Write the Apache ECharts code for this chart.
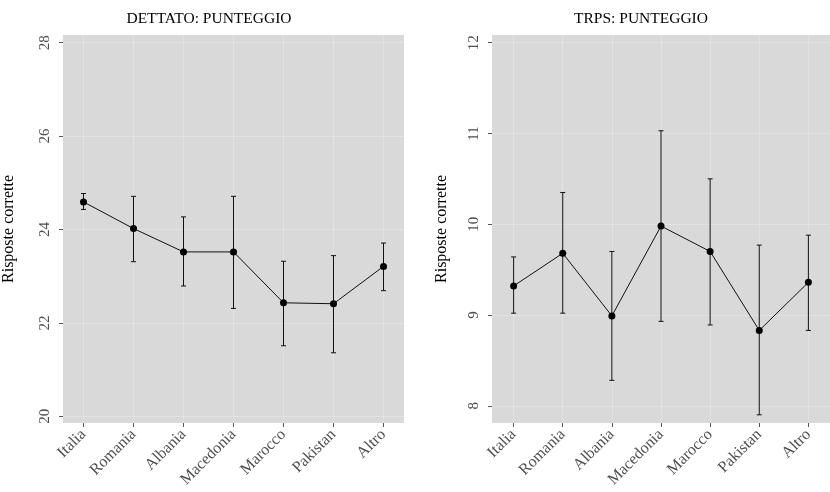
<!DOCTYPE html>
<html>
<head>
<meta charset="utf-8">
<script src="https://cdn.jsdelivr.net/npm/echarts@6/dist/echarts.min.js"></script>
<style>
html,body{margin:0;padding:0;background:#fff;}
#chart{width:830px;height:492px;}
</style>
</head>
<body>
<div id="chart"></div>
<script>
const categories = ['Italia','Romania','Albania','Macedonia','Marocco','Pakistan','Altro'];
const dettatoMean = [24.59, 24.02, 23.52, 23.52, 22.43, 22.41, 23.21];
const dettatoLow  = [24.43, 23.31, 22.79, 22.31, 21.51, 21.36, 22.69];
const dettatoHigh = [24.77, 24.71, 24.27, 24.71, 23.32, 23.44, 23.71];
const trpsMean = [9.32, 9.68, 8.99, 9.98, 9.70, 8.83, 9.36];
const trpsLow  = [9.02, 9.02, 8.28, 8.93, 8.89, 7.90, 8.83];
const trpsHigh = [9.64, 10.35, 9.70, 11.03, 10.50, 9.77, 9.88];
const dettatoTicks = [20, 22, 24, 26, 28];
const trpsTicks = [8, 9, 10, 11, 12];
const titles = ['DETTATO: PUNTEGGIO', 'TRPS: PUNTEGGIO'];
const yTitle = 'Risposte corrette';

const FONT = 'Liberation Serif';
const catIdx = categories.map((c, i) => i);

function renderErr(params, api) {
  const x = api.value(0);
  const lo = api.coord([x, api.value(1)]);
  const hi = api.coord([x, api.value(2)]);
  const hw = 2.5;
  const st = {stroke: '#111', lineWidth: 1};
  return {type: 'group', children: [
    {type: 'line', shape: {x1: lo[0], y1: lo[1], x2: hi[0], y2: hi[1]}, style: st},
    {type: 'line', shape: {x1: lo[0]-hw, y1: lo[1], x2: lo[0]+hw, y2: lo[1]}, style: st},
    {type: 'line', shape: {x1: hi[0]-hw, y1: hi[1], x2: hi[0]+hw, y2: hi[1]}, style: st}
  ]};
}

function xAxis(gi, pad) {
  return {
    type: 'value', gridIndex: gi, min: -pad, max: categories.length - 1 + pad,
    axisLine: {show: false, onZero: false},
    axisTick: {show: true, customValues: catIdx, length: 4, lineStyle: {color: '#555'}},
    axisLabel: {customValues: catIdx, rotate: 45, margin: 9, fontFamily: FONT, fontSize: 16, color: '#4d4d4d',
      formatter: v => categories[Math.round(v)] || ''},
    splitLine: {show: true, lineStyle: {color: 'rgba(255,255,255,0.25)', width: 1}}
  };
}
function yAxis(gi, min, max, ticks, gap) {
  return {
    type: 'value', gridIndex: gi, min: min, max: max,
    name: yTitle, nameLocation: 'middle', nameGap: gap, nameRotate: 90,
    nameTextStyle: {fontFamily: FONT, fontSize: 16, color: '#000'},
    axisLine: {show: false, onZero: false},
    axisTick: {show: true, customValues: ticks, length: 4, lineStyle: {color: '#555'}},
    axisLabel: {customValues: ticks, rotate: 90, margin: 10, fontFamily: FONT, fontSize: 15, color: '#4d4d4d'},
    splitLine: {show: true, lineStyle: {color: 'rgba(255,255,255,0.25)', width: 1}}
  };
}

const chart = echarts.init(document.getElementById('chart'), null, {renderer: 'canvas'});
chart.setOption({
  backgroundColor: '#ffffff',
  animation: false,
  title: [
    {text: titles[0], left: 204, top: 6, textAlign: 'center', textStyle: {fontFamily: FONT, fontSize: 15.5, fontWeight: 'normal', color: '#000'}},
    {text: titles[1], left: 636, top: 6, textAlign: 'center', textStyle: {fontFamily: FONT, fontSize: 15.5, fontWeight: 'normal', color: '#000'}}
  ],
  grid: [
    {left: 61, top: 35, width: 343, height: 388, show: true, backgroundColor: '#d9d9d9', borderWidth: 0},
    {left: 492, top: 35, width: 346, height: 388, show: true, backgroundColor: '#d9d9d9', borderWidth: 0}
  ],
  xAxis: [xAxis(0, 0.41), xAxis(1, 0.44)],
  yAxis: [yAxis(0, 19.856, 28.165, dettatoTicks, 46), yAxis(1, 7.81, 12.085, trpsTicks, 42)],
  series: [
    {type: 'custom', xAxisIndex: 0, yAxisIndex: 0, renderItem: renderErr,
      data: catIdx.map(i => [i, dettatoLow[i], dettatoHigh[i]]), z: 2},
    {type: 'line', xAxisIndex: 0, yAxisIndex: 0, data: catIdx.map(i => [i, dettatoMean[i]]),
      symbol: 'circle', symbolSize: 7, itemStyle: {color: '#000'}, lineStyle: {color: '#111', width: 1}, z: 3},
    {type: 'custom', xAxisIndex: 1, yAxisIndex: 1, renderItem: renderErr,
      data: catIdx.map(i => [i, trpsLow[i], trpsHigh[i]]), z: 2},
    {type: 'line', xAxisIndex: 1, yAxisIndex: 1, data: catIdx.map(i => [i, trpsMean[i]]),
      symbol: 'circle', symbolSize: 7, itemStyle: {color: '#000'}, lineStyle: {color: '#111', width: 1}, z: 3}
  ]
});
</script>
</body>
</html>
